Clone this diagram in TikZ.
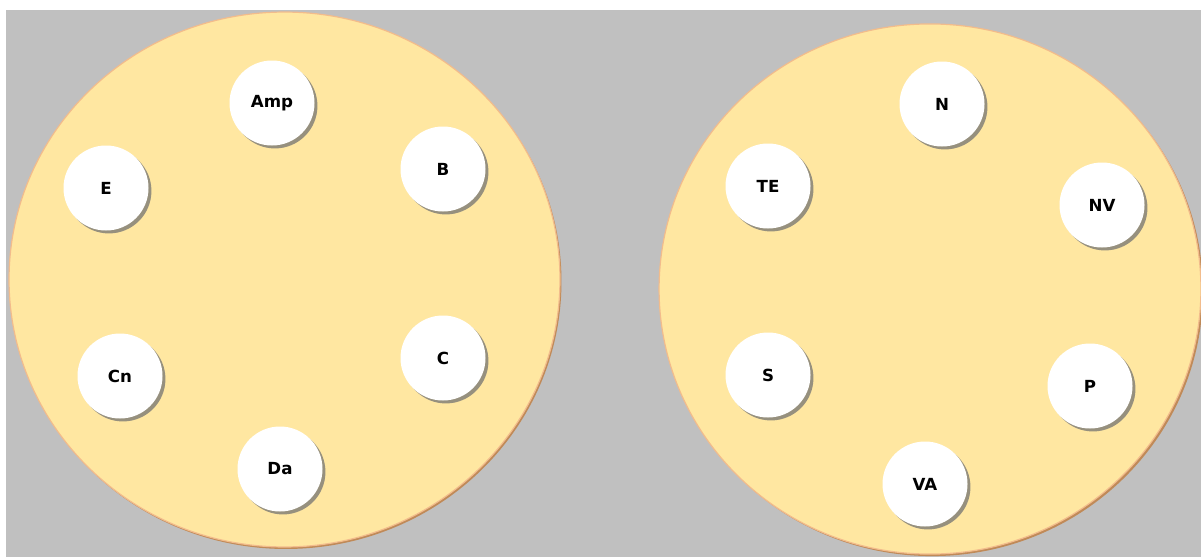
\documentclass[tikz,border=0pt]{standalone}
\usepackage{fontspec}
\setmainfont{DejaVu Sans}
\usepackage{tikz}
\usetikzlibrary{shadows}
\definecolor{panelgray}{HTML}{C0C0C0}
\definecolor{dishfill}{HTML}{FFE7A1}
\definecolor{dishedge}{HTML}{F2BC8C}
\definecolor{dishdark}{HTML}{C08A58}
\begin{document}
\begin{tikzpicture}[x=0.75pt,y=-0.75pt,
    item/.style={circle, fill=white, minimum size=63.75pt, inner sep=0pt,
        font=\fontsize{12.5}{14}\selectfont\bfseries,
        drop shadow={shadow xshift=2.2pt, shadow yshift=-2.2pt,
            fill=black!55, opacity=0.75}},
    dish/.style={fill=dishfill, draw=dishedge, line width=0.9pt}
    ]
    %% Frame
    \useasboundingbox (0,0) rectangle (1201,557);
    \fill[white] (0,0) rectangle (1201,557);
    \fill[panelgray] (6,10) rectangle (1201,557);
    %% Dishes
    \fill[dishdark] (286,281.5) ellipse[x radius=206.6pt, y radius=200.6pt];
    \draw[dish] (284.5,279.5) coordinate (leftdish)
        ellipse[x radius=206.6pt, y radius=200.6pt];
    \fill[dishdark] (932,291) ellipse[x radius=203.2pt, y radius=198.8pt];
    \draw[dish] (930,289) coordinate (rightdish)
        ellipse[x radius=203.2pt, y radius=198.8pt];
    %% Left dish
    \foreach \x/\y/\name/\txt in {272/103/amp/Amp, 443/169/b/B, 443/358/c/C,
        280/469/da/Da, 120/376/cn/Cn, 106/188/e/E}
    {
    \node[item] (\name) at (\x,\y) {\txt};
    }
    %% Right dish
    \foreach \x/\y/\name/\txt in {942/104/n/N, 1102/205/nv/NV, 1090/386/p/P,
        925/484/va/VA, 768/375/s/S, 768/186/te/TE}
    {
    \node[item] (\name) at (\x,\y) {\txt};
    }
\end{tikzpicture}
\end{document}
